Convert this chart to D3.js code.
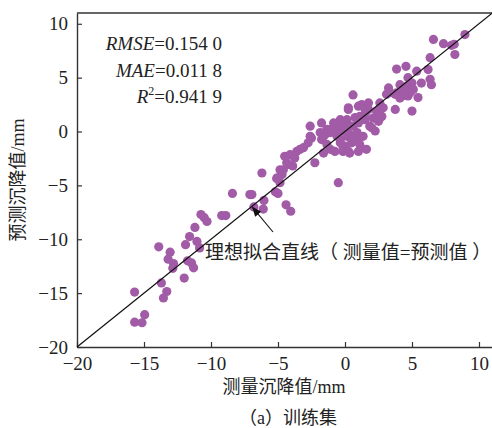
<!DOCTYPE html>
<html>
<head>
<meta charset="utf-8">
<script src="https://cdn.jsdelivr.net/npm/d3@7"></script>
<style>
  html, body { margin: 0; padding: 0; background: #fff; }
  svg { display: block; }
  .tick text { font-family: "Liberation Serif", "DejaVu Serif", serif; font-size: 19px; fill: #222; }
  .cjk { font-family: "Liberation Serif", "Noto Sans CJK SC", serif; font-size: 18px; fill: #222; }
</style>
</head>
<body>
<svg id="chart" width="492" height="428"></svg>
<script>
// ==========================================================
// DATA — measured (x) vs predicted (y) settlement, mm
// ==========================================================

const measured = [
    -15.7, -15.15, -14.95, -15.7, -13.7, -13.3, -13.55, -13.9, -13.05, -13.2,
    -12.8, -12.85, -12.0, -11.9, -11.6, -11.75, -11.45, -11.3, -11.05, -10.85,
    -11.2, -10.75, -10.5, -10.3, -9.2, -8.9, -8.4, -7.1,
    -6.2, -6.95, -5.1, -4.85, -5.2, -5.0, -6.05, -6.8, -6.1, -4.4,
    -4.05, -4.85, -4.5, -4.1, -3.75, -4.25, -3.9, -4.6, -4.7, -5.05,
    -4.35, -3.6, -3.35, -3.1, -2.6, -2.5, -2.75, -2.6, -2.25, -1.75, -0.5,
    -1.5, -1.25, -1.0, -0.75, -0.5, -0.25, -0.6, -0.35, 0.0, -0.15,
    0.35, 1.0, 1.6, 0.5, 0.85, 0.35, 0.15, 0.6, 1.0, 0.25,
    1.5, 1.85, 2.25, -1.35, -1.1, -0.75, -0.35, 0.15, 0.75, 1.1,
    1.5, 1.75, -0.25, 0.15, 0.5, -0.35, -0.15, 0.25, 0.75, 2.0,
    2.25, 2.6, -1.75, -1.35, -1.1, -1.6, -0.75, -1.6, -1.5, -1.85,
    -0.85, -0.1, 0.4, -0.6, 0.9, 1.35, 0.6, 1.1,
    0.6, 0.25, 1.0, 1.75, 2.35, 2.75, 1.25, 1.5, 3.25, 3.35,
    3.85, 4.25, 4.7, 5.45, 3.75, 5.0, 2.6, 2.85, 2.1, 2.5,
    3.1, 3.75, 4.1, 4.1, 4.35, 4.7, 5.0, 4.6, 5.1, 4.85,
    5.7, 6.35, 6.45, 3.85, 4.55, 5.35, 6.2, 6.35, 6.6, 7.35,
    7.95, 8.15, 8.2, 8.95
];

const predicted = [
    -17.7, -17.75, -17.0, -14.9, -14.05, -14.85, -15.45, -10.7, -11.2, -11.85,
    -12.25, -12.7, -13.6, -10.5, -9.75, -12.0, -12.2, -12.65, -10.2, -10.8,
    -8.9, -7.7, -8.0, -8.35, -7.8, -7.8, -5.75, -5.85,
    -3.85, -5.85, -4.35, -4.75, -5.6, -5.75, -6.4, -7.0, -7.2, -6.8,
    -7.4, -3.55, -2.3, -2.15, -2.45, -3.05, -3.2, -3.55, -4.0, -4.3,
    -2.9, -1.85, -1.65, -1.5, 0.5, -0.6, -1.05, -0.45, -2.9, 0.8, -4.75,
    -0.3, -0.1, 0.2, 0.35, 0.65, 0.8, -0.45, -1.05, -1.35, -1.85,
    -2.0, -1.85, -1.65, -1.05, -0.75, -0.3, 0.2, 0.5, 0.8, 2.05,
    1.1, 0.5, 1.25, 0.2, -0.1, 0.5, 1.1, 1.1, 1.3, 1.4,
    1.6, 2.05, 0.05, -0.45, -0.75, -0.75, -1.4, -1.85, -0.75, 0.35,
    0.05, 1.25, -0.75, -1.2, -1.65, -2.0, -1.85, -0.45, -0.1, -0.1,
    0.8, 0.5, 0.5, 0.05, -0.1, -0.45, -0.75, -1.2,
    3.4, 2.2, 2.35, 2.65, 1.9, 1.4, 2.5, 2.05, 4.05, 3.6,
    3.6, 3.3, 3.3, 3.15, 2.05, 1.9, 2.65, 2.2, 1.25, 0.95,
    3.45, 3.45, 3.1, 4.35, 3.75, 5.0, 4.5, 4.2, 3.9, 3.6,
    4.5, 4.85, 4.35, 5.8, 6.05, 5.6, 5.75, 6.85, 8.55, 8.15,
    8.0, 8.1, 7.15, 9.0
];

const tickValues = [-20, -15, -10, -5, 0, 5, 10];
const axisDomain = [-20, 11];

const statLines = [
    { name: "RMSE", sup: "", value: "=0.154 0" },
    { name: "MAE", sup: "", value: "=0.011 8" },
    { name: "R", sup: "2", value: "=0.941 9" }
];

// ==========================================================
// LAYOUT
// ==========================================================

const svg = d3.select("#chart");
const plotLeft = 77, plotRight = 492.4, plotTop = 13, plotBottom = 347;

const x = d3.scaleLinear().domain(axisDomain).range([plotLeft, plotRight]);
const y = d3.scaleLinear().domain(axisDomain).range([plotBottom, plotTop]);

const points = measured.map((m, i) => ({ m, p: predicted[i] }));

// ==========================================================
// AXES
// ==========================================================

function drawAxes() {
    const xAxis = svg.append("g")
        .attr("transform", `translate(0,${plotBottom})`)
        .call(d3.axisBottom(x).tickValues(tickValues).tickSizeInner(-5).tickSizeOuter(0).tickPadding(8));

    const yAxis = svg.append("g")
        .attr("transform", `translate(${plotLeft},0)`)
        .call(d3.axisLeft(y).tickValues(tickValues).tickSizeInner(-5).tickSizeOuter(0).tickPadding(8));

    [xAxis, yAxis].forEach(g => {
        g.attr("font-family", null).attr("font-size", null);
        g.select(".domain").attr("stroke", "#333").attr("stroke-width", 1.4);
        g.selectAll(".tick line").attr("stroke", "#333").attr("stroke-width", 1.2);
    });
    xAxis.selectAll(".tick text").attr("dy", "0.78em");
    yAxis.selectAll(".tick text").attr("dx", "-1");

    // top frame line
    svg.append("line")
        .attr("x1", plotLeft).attr("x2", 492)
        .attr("y1", plotTop).attr("y2", plotTop)
        .attr("stroke", "#333").attr("stroke-width", 1.4);
}

// ==========================================================
// MARKS
// ==========================================================

function drawPoints() {
    svg.append("g")
        .selectAll("circle")
        .data(points)
        .join("circle")
        .attr("cx", d => x(d.m))
        .attr("cy", d => y(d.p))
        .attr("r", 4.6)
        .attr("fill", "#a25ba6");
}

function drawIdealLine() {
    svg.append("line")
        .attr("x1", x(axisDomain[0])).attr("y1", y(axisDomain[0]))
        .attr("x2", x(axisDomain[1])).attr("y2", y(axisDomain[1]))
        .attr("stroke", "#111").attr("stroke-width", 1.2);

    // arrow pointing at the line
    svg.append("defs").append("marker")
        .attr("id", "arrow")
        .attr("viewBox", "0 0 10 10")
        .attr("refX", 9).attr("refY", 5)
        .attr("markerWidth", 10).attr("markerHeight", 10)
        .attr("markerUnits", "userSpaceOnUse")
        .attr("orient", "auto")
        .append("path")
        .attr("d", "M0,1 L10,5 L0,9 Z")
        .attr("fill", "#111");

    const tip = -6.9;
    svg.append("line")
        .attr("x1", 273).attr("y1", 232)
        .attr("x2", x(tip)).attr("y2", y(tip) + 1.5)
        .attr("stroke", "#111").attr("stroke-width", 1.1)
        .attr("marker-end", "url(#arrow)");

    svg.append("text")
        .attr("class", "cjk")
        .attr("x", 205).attr("y", 259)
        .style("font-size", "19px")
        .text("理想拟合直线（ 测量值=预测值 ）");
}

// ==========================================================
// TEXT
// ==========================================================

function drawLabels() {
    const stats = svg.append("g")
        .style("font-family", "'Liberation Serif', 'DejaVu Serif', serif")
        .style("font-size", "19px")
        .attr("fill", "#222");

    statLines.forEach((s, i) => {
        const t = stats.append("text")
            .attr("x", 222)
            .attr("y", 50 + i * 26.5)
            .attr("text-anchor", "end");
        t.append("tspan").attr("font-style", "italic").text(s.name);
        if (s.sup) {
            t.append("tspan").style("font-size", "12px").attr("dy", -8).text(s.sup);
            t.append("tspan").attr("dy", 8).text(s.value);
        } else {
            t.append("tspan").text(s.value);
        }
    });

    svg.append("text")
        .attr("class", "cjk")
        .attr("transform", `translate(24,180) rotate(-90)`)
        .attr("text-anchor", "middle")
        .text("预测沉降值/mm");

    svg.append("text")
        .attr("class", "cjk")
        .attr("x", 284).attr("y", 393)
        .attr("text-anchor", "middle")
        .text("测量沉降值/mm");

    svg.append("text")
        .attr("class", "cjk")
        .attr("x", 288).attr("y", 424)
        .attr("text-anchor", "middle")
        .text("（a）训练集");
}

drawAxes();
drawPoints();
drawIdealLine();
drawLabels();
</script>
</body>
</html>
